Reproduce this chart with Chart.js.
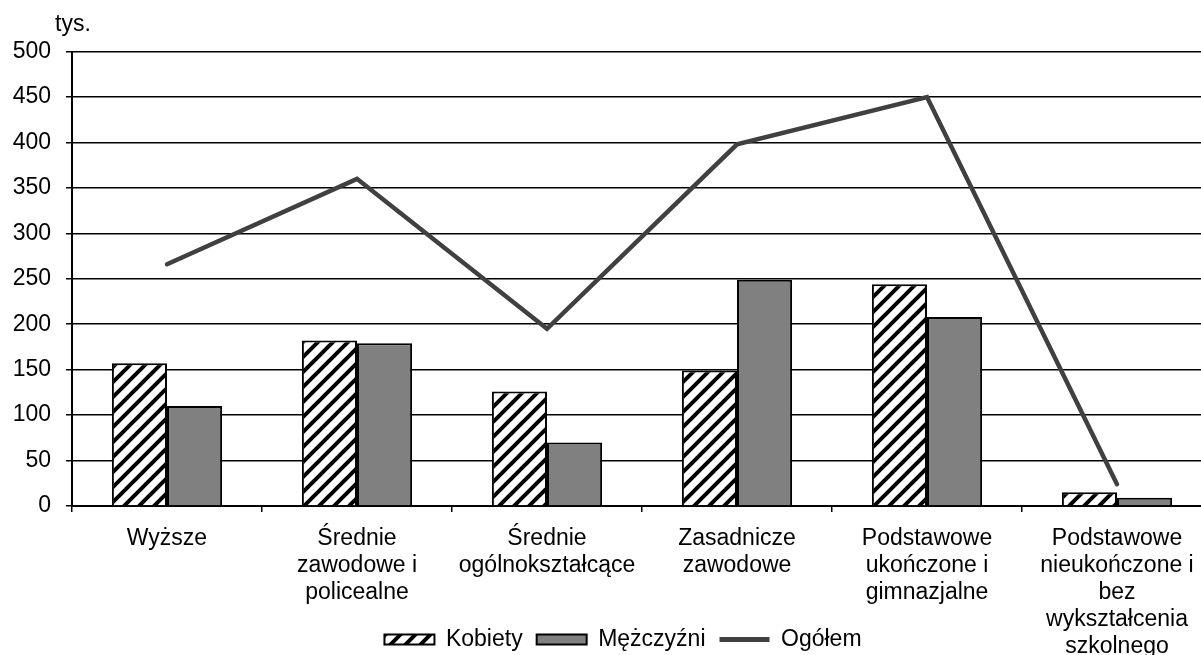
<!DOCTYPE html>
<html>
<head>
<meta charset="utf-8">
<style>
  html, body { margin: 0; padding: 0; background: #fff; overflow: hidden; }
  canvas { display: block; }
</style>
<script src="https://cdn.jsdelivr.net/npm/chart.js@4"></script>
</head>
<body>
<canvas id="c" width="1212" height="705"></canvas>
<script>
const categories = [
  ['Wyższe'],
  ['Średnie', 'zawodowe i', 'policealne'],
  ['Średnie', 'ogólnokształcące'],
  ['Zasadnicze', 'zawodowe'],
  ['Podstawowe', 'ukończone i', 'gimnazjalne'],
  ['Podstawowe', 'nieukończone i', 'bez', 'wykształcenia', 'szkolnego']
];
const kobiety = [157, 182, 126, 149, 244, 15];
const mezczyzni = [110, 179, 70, 249, 208, 9];
const ogolem = [266, 360, 195, 398, 450, 24];
const seriesNames = ['Kobiety', 'Mężczyźni', 'Ogółem'];
const unitLabel = 'tys.';

const FONT = "'Liberation Sans', Arial, sans-serif";

function makeHatch() {
  const s = 15;
  const pc = document.createElement('canvas');
  pc.width = s; pc.height = s;
  const g = pc.getContext('2d');
  g.fillStyle = '#fff';
  g.fillRect(0, 0, s, s);
  g.strokeStyle = '#000';
  g.lineWidth = 4;
  g.beginPath();
  g.moveTo(-2, s + 2); g.lineTo(s + 2, -2);
  g.moveTo(-2, 2); g.lineTo(2, -2);
  g.moveTo(s - 2, s + 2); g.lineTo(s + 2, s - 2);
  g.stroke();
  return document.getElementById('c').getContext('2d').createPattern(pc, 'repeat');
}
const hatch = makeHatch();

const shiftPlugin = {
  id: 'shiftBoxes',
  afterLayout(chart) {
    if (chart.legend) {
      const h = chart.legend.height;
      chart.legend.left = 0; chart.legend.right = 1246;
      chart.legend.top = 614; chart.legend.bottom = 614 + h;
    }
    if (chart.titleBlock) { chart.titleBlock.left = 55; chart.titleBlock.right = 400; }
  }
};

new Chart(document.getElementById('c'), {
  type: 'bar',
  data: {
    labels: categories,
    datasets: [
      {
        label: seriesNames[0],
        data: kobiety,
        backgroundColor: hatch,
        borderColor: '#000',
        borderWidth: 2,
        categoryPercentage: 0.58,
        barPercentage: 1.0
      },
      {
        label: seriesNames[1],
        data: mezczyzni,
        backgroundColor: '#808080',
        borderColor: '#000',
        borderWidth: 2,
        categoryPercentage: 0.58,
        barPercentage: 1.0
      },
      {
        type: 'line',
        label: seriesNames[2],
        data: ogolem,
        borderColor: '#404040',
        borderWidth: 4.5,
        pointRadius: 0,
        pointHoverRadius: 0,
        fill: false,
        tension: 0,
        borderCapStyle: 'round',
        borderJoinStyle: 'miter'
      }
    ]
  },
  options: {
    responsive: false,
    devicePixelRatio: 1,
    animation: false,
    layout: { padding: 0 },
    plugins: {
      tooltip: { enabled: false },
      title: {
        display: true,
        text: unitLabel,
        align: 'start',
        color: '#000',
        font: { family: FONT, size: 23, weight: 'normal', lineHeight: 1.2 },
        padding: { top: 11, bottom: 13 }
      },
      legend: {
        position: 'bottom',
        labels: {
          color: '#000',
          font: { family: FONT, size: 23 },
          usePointStyle: true,
          pointStyleWidth: 50,
          boxHeight: 10,
          padding: 14,
          generateLabels(chart) {
            return [
              { text: seriesNames[0], fillStyle: hatch, strokeStyle: '#000', lineWidth: 2, pointStyle: 'rect', datasetIndex: 0, hidden: false, fontColor: '#000' },
              { text: seriesNames[1], fillStyle: '#808080', strokeStyle: '#000', lineWidth: 2, pointStyle: 'rect', datasetIndex: 1, hidden: false, fontColor: '#000' },
              { text: seriesNames[2], fillStyle: '#404040', strokeStyle: '#404040', lineWidth: 5, pointStyle: 'line', datasetIndex: 2, hidden: false, fontColor: '#000' }
            ];
          }
        }
      }
    },
    scales: {
      x: {
        afterFit(scale) { scale.height = 152; },
        grid: {
          display: true,
          drawOnChartArea: false,
          drawTicks: true,
          tickLength: 6,
          offset: true,
          color: '#000',
          lineWidth: 1.5
        },
        border: { display: true, color: '#000', width: 2 },
        ticks: {
          color: '#000',
          font: { family: FONT, size: 23, lineHeight: 1.18 },
          padding: 13,
          maxRotation: 0,
          autoSkip: false
        }
      },
      y: {
        min: 0,
        max: 500,
        afterFit(scale) { scale.width = 72; },
        grid: {
          color: '#000',
          lineWidth: 1.5,
          drawTicks: true,
          tickLength: 6
        },
        border: { display: true, color: '#000', width: 2 },
        ticks: {
          stepSize: 50,
          color: '#000',
          font: { family: FONT, size: 23 },
          padding: 15
        }
      }
    }
  },
  plugins: [shiftPlugin]
});
</script>
</body>
</html>
